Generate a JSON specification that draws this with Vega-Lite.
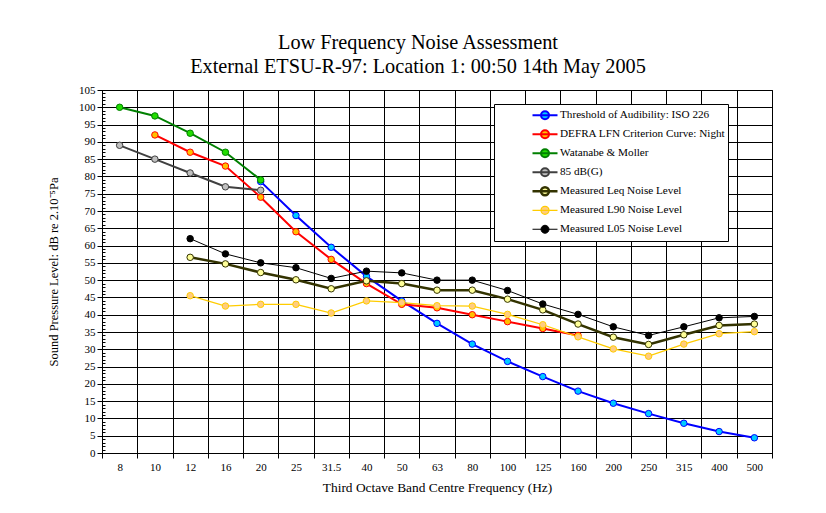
{
  "$schema": "https://vega.github.io/schema/vega-lite/v6.json",
  "width": 670,
  "height": 363,
  "autosize": {"type": "none"},
  "padding": {"left": 102, "top": 90, "right": 54, "bottom": 60},
  "background": "white",
  "title": {
    "text": ["Low Frequency Noise Assessment", "External ETSU-R-97: Location 1: 00:50 14th May 2005"],
    "font": "Liberation Serif",
    "fontSize": 20.3,
    "fontWeight": "normal",
    "color": "#000",
    "anchor": "middle",
    "dx": -19,
    "offset": 7,
    "lineHeight": 24
  },
  "config": {
    "view": {"stroke": "#000", "strokeWidth": 1},
    "axis": {
      "labelFont": "Liberation Serif",
      "labelFontSize": 11,
      "labelColor": "#000",
      "titleFont": "Liberation Serif",
      "titleFontSize": 13.4,
      "titleFontWeight": "normal",
      "titleColor": "#000",
      "domainColor": "#000",
      "tickColor": "#000",
      "gridColor": "#000",
      "gridOpacity": 1,
      "gridWidth": 1
    }
  },
  "data": {
    "values": [
      {"f": "20", "s": "Threshold of Audibility: ISO 226", "v": 78.5},
      {"f": "25", "s": "Threshold of Audibility: ISO 226", "v": 68.7},
      {"f": "31.5", "s": "Threshold of Audibility: ISO 226", "v": 59.5},
      {"f": "40", "s": "Threshold of Audibility: ISO 226", "v": 51.1},
      {"f": "50", "s": "Threshold of Audibility: ISO 226", "v": 44.0},
      {"f": "63", "s": "Threshold of Audibility: ISO 226", "v": 37.5},
      {"f": "80", "s": "Threshold of Audibility: ISO 226", "v": 31.5},
      {"f": "100", "s": "Threshold of Audibility: ISO 226", "v": 26.5},
      {"f": "125", "s": "Threshold of Audibility: ISO 226", "v": 22.1},
      {"f": "160", "s": "Threshold of Audibility: ISO 226", "v": 17.9},
      {"f": "200", "s": "Threshold of Audibility: ISO 226", "v": 14.4},
      {"f": "250", "s": "Threshold of Audibility: ISO 226", "v": 11.4},
      {"f": "315", "s": "Threshold of Audibility: ISO 226", "v": 8.6},
      {"f": "400", "s": "Threshold of Audibility: ISO 226", "v": 6.2},
      {"f": "500", "s": "Threshold of Audibility: ISO 226", "v": 4.4},
      {"f": "10", "s": "DEFRA LFN Criterion Curve: Night", "v": 92},
      {"f": "12", "s": "DEFRA LFN Criterion Curve: Night", "v": 87},
      {"f": "16", "s": "DEFRA LFN Criterion Curve: Night", "v": 83},
      {"f": "20", "s": "DEFRA LFN Criterion Curve: Night", "v": 74},
      {"f": "25", "s": "DEFRA LFN Criterion Curve: Night", "v": 64},
      {"f": "31.5", "s": "DEFRA LFN Criterion Curve: Night", "v": 56},
      {"f": "40", "s": "DEFRA LFN Criterion Curve: Night", "v": 49},
      {"f": "50", "s": "DEFRA LFN Criterion Curve: Night", "v": 43},
      {"f": "63", "s": "DEFRA LFN Criterion Curve: Night", "v": 42},
      {"f": "80", "s": "DEFRA LFN Criterion Curve: Night", "v": 40},
      {"f": "100", "s": "DEFRA LFN Criterion Curve: Night", "v": 38},
      {"f": "125", "s": "DEFRA LFN Criterion Curve: Night", "v": 36},
      {"f": "160", "s": "DEFRA LFN Criterion Curve: Night", "v": 34},
      {"f": "8", "s": "Watanabe & Moller", "v": 100},
      {"f": "10", "s": "Watanabe & Moller", "v": 97.5},
      {"f": "12", "s": "Watanabe & Moller", "v": 92.5},
      {"f": "16", "s": "Watanabe & Moller", "v": 87},
      {"f": "20", "s": "Watanabe & Moller", "v": 79},
      {"f": "8", "s": "85 dB(G)", "v": 89},
      {"f": "10", "s": "85 dB(G)", "v": 85},
      {"f": "12", "s": "85 dB(G)", "v": 81},
      {"f": "16", "s": "85 dB(G)", "v": 77},
      {"f": "20", "s": "85 dB(G)", "v": 76},
      {"f": "12", "s": "Measured Leq Noise Level", "v": 56.6},
      {"f": "16", "s": "Measured Leq Noise Level", "v": 54.7},
      {"f": "20", "s": "Measured Leq Noise Level", "v": 52.2},
      {"f": "25", "s": "Measured Leq Noise Level", "v": 50.1},
      {"f": "31.5", "s": "Measured Leq Noise Level", "v": 47.5},
      {"f": "40", "s": "Measured Leq Noise Level", "v": 49.8},
      {"f": "50", "s": "Measured Leq Noise Level", "v": 49.0},
      {"f": "63", "s": "Measured Leq Noise Level", "v": 47.1},
      {"f": "80", "s": "Measured Leq Noise Level", "v": 47.1},
      {"f": "100", "s": "Measured Leq Noise Level", "v": 44.5},
      {"f": "125", "s": "Measured Leq Noise Level", "v": 41.4},
      {"f": "160", "s": "Measured Leq Noise Level", "v": 37.3},
      {"f": "200", "s": "Measured Leq Noise Level", "v": 33.5},
      {"f": "250", "s": "Measured Leq Noise Level", "v": 31.4},
      {"f": "315", "s": "Measured Leq Noise Level", "v": 34.2},
      {"f": "400", "s": "Measured Leq Noise Level", "v": 36.9},
      {"f": "500", "s": "Measured Leq Noise Level", "v": 37.3},
      {"f": "12", "s": "Measured L90 Noise Level", "v": 45.5},
      {"f": "16", "s": "Measured L90 Noise Level", "v": 42.5},
      {"f": "20", "s": "Measured L90 Noise Level", "v": 43.0},
      {"f": "25", "s": "Measured L90 Noise Level", "v": 43.0},
      {"f": "31.5", "s": "Measured L90 Noise Level", "v": 40.5},
      {"f": "40", "s": "Measured L90 Noise Level", "v": 44.0},
      {"f": "50", "s": "Measured L90 Noise Level", "v": 43.5},
      {"f": "63", "s": "Measured L90 Noise Level", "v": 42.6},
      {"f": "80", "s": "Measured L90 Noise Level", "v": 42.5},
      {"f": "100", "s": "Measured L90 Noise Level", "v": 40.1},
      {"f": "125", "s": "Measured L90 Noise Level", "v": 37.1},
      {"f": "160", "s": "Measured L90 Noise Level", "v": 33.6},
      {"f": "200", "s": "Measured L90 Noise Level", "v": 30.1},
      {"f": "250", "s": "Measured L90 Noise Level", "v": 28.0},
      {"f": "315", "s": "Measured L90 Noise Level", "v": 31.5},
      {"f": "400", "s": "Measured L90 Noise Level", "v": 34.5},
      {"f": "500", "s": "Measured L90 Noise Level", "v": 35.1},
      {"f": "12", "s": "Measured L05 Noise Level", "v": 62.0},
      {"f": "16", "s": "Measured L05 Noise Level", "v": 57.6},
      {"f": "20", "s": "Measured L05 Noise Level", "v": 55.0},
      {"f": "25", "s": "Measured L05 Noise Level", "v": 53.6},
      {"f": "31.5", "s": "Measured L05 Noise Level", "v": 50.5},
      {"f": "40", "s": "Measured L05 Noise Level", "v": 52.6},
      {"f": "50", "s": "Measured L05 Noise Level", "v": 52.1},
      {"f": "63", "s": "Measured L05 Noise Level", "v": 50.0},
      {"f": "80", "s": "Measured L05 Noise Level", "v": 50.0},
      {"f": "100", "s": "Measured L05 Noise Level", "v": 47.0},
      {"f": "125", "s": "Measured L05 Noise Level", "v": 43.1},
      {"f": "160", "s": "Measured L05 Noise Level", "v": 40.1},
      {"f": "200", "s": "Measured L05 Noise Level", "v": 36.5},
      {"f": "250", "s": "Measured L05 Noise Level", "v": 34.0},
      {"f": "315", "s": "Measured L05 Noise Level", "v": 36.5},
      {"f": "400", "s": "Measured L05 Noise Level", "v": 39.1},
      {"f": "500", "s": "Measured L05 Noise Level", "v": 39.5}
    ]
  },
  "encoding": {
    "x": {
      "field": "f",
      "type": "ordinal",
      "scale": {
        "type": "band",
        "domain": ["8", "10", "12", "16", "20", "25", "31.5", "40", "50", "63", "80", "100", "125", "160", "200", "250", "315", "400", "500"],
        "paddingInner": 0,
        "paddingOuter": 0
      },
      "axis": {
        "title": "Third Octave Band Centre Frequency (Hz)",
        "labelAngle": 0,
        "tickBand": "extent",
        "grid": true,
        "tickSize": 5,
        "labelPadding": 3,
        "titlePadding": 8
      }
    }
  },
  "layer": [
    {
      "mark": {"type": "line", "interpolate": "linear"},
      "encoding": {
        "y": {
          "field": "v",
          "type": "quantitative",
          "scale": {"domain": [0, 105], "nice": false, "zero": true},
          "axis": {
            "title": "Sound Pressure Level: dB re 2.10⁻⁵Pa",
            "titleFontSize": 12.5,
            "values": [0, 5, 10, 15, 20, 25, 30, 35, 40, 45, 50, 55, 60, 65, 70, 75, 80, 85, 90, 95, 100, 105],
            "grid": true,
            "tickSize": 5,
            "labelPadding": 2,
            "titlePadding": 18
          }
        },
        "stroke": {
          "field": "s",
          "type": "nominal",
          "scale": {
            "domain": ["Threshold of Audibility: ISO 226", "DEFRA LFN Criterion Curve: Night", "Watanabe & Moller", "85 dB(G)", "Measured Leq Noise Level", "Measured L90 Noise Level", "Measured L05 Noise Level"],
            "range": ["#0000FF", "#FF0000", "#008000", "#404040", "#333300", "#FFCC00", "#000000"]
          },
          "legend": {
            "title": null,
            "orient": "none",
            "legendX": 392,
            "legendY": 14,
            "fillColor": "white",
            "strokeColor": "#000",
            "padding": 2,
            "symbolType": "M-1,0L1,0M0.32,0A0.32,0.32,0,1,1,-0.32,0A0.32,0.32,0,1,1,0.32,0Z",
            "symbolSize": 625,
            "symbolStrokeWidth": 2,
            "symbolOffset": 35,
            "clipHeight": 18.5,
            "rowPadding": 0,
            "labelOffset": 1,
            "labelFont": "Liberation Serif",
            "labelFontSize": 11.2,
            "labelColor": "#000",
            "labelLimit": 300
          }
        },
        "strokeWidth": {
          "field": "s",
          "type": "nominal",
          "scale": {
            "type": "ordinal",
            "domain": ["Threshold of Audibility: ISO 226", "DEFRA LFN Criterion Curve: Night", "Watanabe & Moller", "85 dB(G)", "Measured Leq Noise Level", "Measured L90 Noise Level", "Measured L05 Noise Level"],
            "range": [2, 2, 2, 2, 2.5, 1.25, 1]
          },
          "legend": {"title": null}
        }
      }
    },
    {
      "mark": {"type": "point", "filled": false, "shape": "circle", "size": 42, "strokeWidth": 1, "opacity": 1},
      "encoding": {
        "y": {
          "field": "v",
          "type": "quantitative",
          "axis": {
            "orient": "right",
            "offset": -670,
            "title": null,
            "labels": false,
            "domain": false,
            "grid": false,
            "tickSize": 3,
            "tickCount": 105
          }
        },
        "stroke": {"field": "s", "type": "nominal", "legend": {"title": null}},
        "fill": {
          "field": "s",
          "type": "nominal",
          "scale": {
            "domain": ["Threshold of Audibility: ISO 226", "DEFRA LFN Criterion Curve: Night", "Watanabe & Moller", "85 dB(G)", "Measured Leq Noise Level", "Measured L90 Noise Level", "Measured L05 Noise Level"],
            "range": ["#00CCFF", "#FFC000", "#22DD00", "#C0C0C0", "#FFFF99", "#FFCC80", "#000000"]
          },
          "legend": {"title": null}
        }
      }
    }
  ],
  "resolve": {"axis": {"y": "independent"}}
}
